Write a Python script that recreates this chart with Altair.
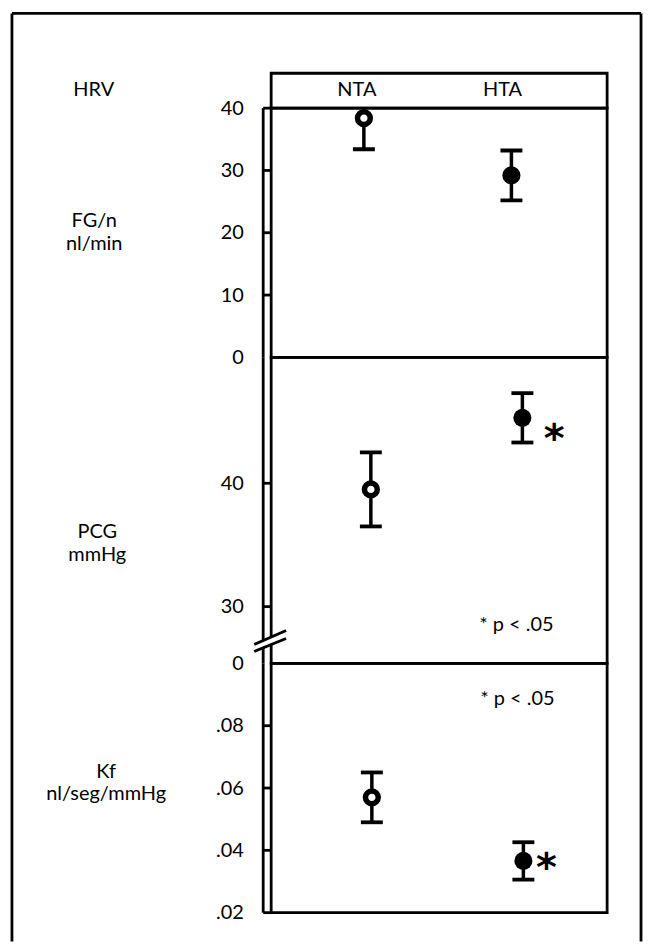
import altair as alt
import pandas as pd

# Groups (columns of the figure)
groups = ["NTA", "HTA"]
hollow = [True, False]          # NTA open circles, HTA filled circles
starred = [False, True]         # significant difference marker

# FG/n (nl/min): mean and error
fg_mean = [38.4, 29.2]
fg_err = [5.0, 4.0]
fg_domain = [0, 40]
fg_ticks = [10, 20, 30, 40]

# PCG (mmHg): mean and error
pcg_mean = [39.5, 45.3]
pcg_err = [3.0, 2.0]
pcg_domain = [25.4, 50.2]       # axis broken below 30, bottom labelled 0
pcg_ticks = [30, 40]
pcg_note_y = 28.55

# Kf (nl/seg/mmHg): mean and error
kf_mean = [0.057, 0.0366]
kf_err = [0.008, 0.006]
kf_domain = [0.02, 0.10]
kf_ticks = [0.02, 0.04, 0.06, 0.08]
kf_note_y = 0.0885

# axis-break slashes on the PCG scale (left end, right end)
break_left = [26.94, 26.37]
break_right = [28.07, 27.42]
break_gap_left = [26.65]
break_gap_right = [27.74]

FONT = "Lato"
FS = 20
W = 337
BLACK = "black"
LW = 2.8


def axis_def(values, expr, title, tx, ty):
    return alt.Axis(
        values=values, labelExpr=expr, ticks=False, domain=False, grid=False,
        labelPadding=28, labelFontSize=FS, labelFont=FONT, labelColor=BLACK,
        labelOverlap=False, labelBound=False,
        title=title, titleAngle=0, titleX=tx, titleY=ty, titleAlign="center",
        titleBaseline="middle", titleFont=FONT, titleFontSize=FS,
        titleFontWeight="normal", titleColor=BLACK, titleLineHeight=23,
    )


def panel(mean, err, domain, ticks, yaxis, height, xrange, clip=False,
          star_dx=0, star_dy=0, note_y=None, with_break=False):
    df = pd.DataFrame({
        "group": groups,
        "mean": mean,
        "lo": [m - e for m, e in zip(mean, err)],
        "hi": [m + e for m, e in zip(mean, err)],
        "hollow": hollow,
        "star": ["*" if s else "" for s in starred],
    })
    ys = alt.Scale(domain=domain, nice=False, zero=False)
    x = alt.X("group:N", sort=groups, axis=None,
              scale=alt.Scale(type="point", range=xrange, padding=0))
    base = alt.Chart(df)

    # outer rail of the double-line axis
    rail = alt.Chart(pd.DataFrame({"k": [0]})).mark_rule(
        color=BLACK, strokeWidth=LW
    ).encode(x=alt.value(-8), y=alt.value(0), y2=alt.value(height))

    # rungs joining the two rails at each tick
    rungs = alt.Chart(pd.DataFrame({"tick": ticks})).mark_rule(
        color=BLACK, strokeWidth=LW
    ).encode(x=alt.value(-8), x2=alt.value(0),
             y=alt.Y("tick:Q", scale=ys, axis=yaxis))

    whisk = base.mark_rule(color=BLACK, strokeWidth=3.5, clip=clip).encode(
        x=x, y=alt.Y("lo:Q", scale=ys, axis=yaxis), y2="hi:Q")
    caps = base.transform_fold(["lo", "hi"], as_=["end", "v"]).mark_tick(
        color=BLACK, thickness=3.8, size=22, clip=clip, opacity=1
    ).encode(x=x, y=alt.Y("v:Q", scale=ys, axis=yaxis))

    open_pts = base.transform_filter("datum.hollow").mark_point(
        shape="circle", filled=True, fill="white", stroke=BLACK,
        strokeWidth=5.5, size=165, opacity=1
    ).encode(x=x, y=alt.Y("mean:Q", scale=ys, axis=yaxis))
    full_pts = base.transform_filter("!datum.hollow").mark_point(
        shape="circle", filled=True, fill=BLACK, stroke=BLACK,
        strokeWidth=0, size=330, opacity=1
    ).encode(x=x, y=alt.Y("mean:Q", scale=ys, axis=yaxis))

    layers = [rail, rungs, whisk, caps, open_pts, full_pts]

    if star_dx:
        layers.append(
            base.transform_filter("datum.star != ''").mark_text(
                font="DejaVu Sans", fontWeight="bold", fontSize=40,
                color=BLACK, align="center", baseline="alphabetic",
                dx=star_dx, dy=star_dy
            ).encode(x=x, y=alt.Y("mean:Q", scale=ys, axis=yaxis),
                     text="star:N"))

    if note_y is not None:
        note = pd.DataFrame({"group": ["HTA"], "v": [note_y],
                             "txt": ["* p < .05"]})
        layers.append(
            alt.Chart(note).mark_text(
                font=FONT, fontSize=20, color=BLACK, align="center",
                baseline="middle", dx=-6
            ).encode(x=x, y=alt.Y("v:Q", scale=ys, axis=yaxis),
                     text="txt:N"))

    if with_break:
        gap = pd.DataFrame({"a": break_gap_left, "b": break_gap_right})
        slashes = pd.DataFrame({"a": break_left, "b": break_right})
        layers.append(
            alt.Chart(gap).mark_rule(color="white", strokeWidth=5).encode(
                x=alt.value(-17), x2=alt.value(15),
                y=alt.Y("a:Q", scale=ys, axis=yaxis), y2="b:Q"))
        layers.append(
            alt.Chart(slashes).mark_rule(color=BLACK, strokeWidth=LW).encode(
                x=alt.value(-17), x2=alt.value(15),
                y=alt.Y("a:Q", scale=ys, axis=yaxis), y2="b:Q"))

    return alt.layer(*layers).properties(width=W, height=height)


fg = panel(
    fg_mean, fg_err, fg_domain, fg_ticks,
    axis_def([0, 10, 20, 30, 40], "format(datum.value, 'd')",
             ["FG/n", "nl/min"], -178, 113),
    250, [93, 241], clip=True)

pcg = panel(
    pcg_mean, pcg_err, pcg_domain, pcg_ticks,
    axis_def([pcg_domain[0], 30, 40],
             "datum.value < 29 ? '0' : format(datum.value, 'd')",
             ["PCG", "mmHg"], -175, 175),
    307, [100, 252], star_dx=32, star_dy=34, note_y=pcg_note_y,
    with_break=True)

kf = panel(
    kf_mean, kf_err, kf_domain, kf_ticks,
    axis_def(kf_ticks, "substring(format(datum.value, '.2f'), 1)",
             ["Kf", "nl/seg/mmHg"], -166, 108),
    250, [101, 253], star_dx=23, star_dy=20, note_y=kf_note_y)

# header row with the group names, the row label and the outer frame
hdr_df = pd.DataFrame({"group": groups})
hx = alt.X("group:N", sort=groups, axis=None,
           scale=alt.Scale(type="point", range=[86, 232], padding=0))
one = pd.DataFrame({"k": [0]})
header = alt.layer(
    alt.Chart(hdr_df).mark_text(font=FONT, fontSize=FS, color=BLACK,
                                baseline="middle").encode(
        x=hx, y=alt.value(17), text="group:N"),
    alt.Chart(pd.DataFrame({"t": ["HRV"]})).mark_text(
        font=FONT, fontSize=FS, color=BLACK, baseline="middle").encode(
        x=alt.value(-178), y=alt.value(17), text="t:N"),
    alt.Chart(one).mark_rule(color=BLACK, strokeWidth=LW).encode(
        x=alt.value(-260), y=alt.value(-60), y2=alt.value(871)),
    alt.Chart(one).mark_rule(color=BLACK, strokeWidth=LW).encode(
        x=alt.value(-260), x2=alt.value(371), y=alt.value(-60)),
    alt.Chart(one).mark_rule(color=BLACK, strokeWidth=LW).encode(
        x=alt.value(371), y=alt.value(-60), y2=alt.value(871)),
).properties(width=W, height=35)

chart = alt.vconcat(
    header, fg, pcg, kf, spacing=0, bounds="flush"
).resolve_scale(
    x="independent", y="independent"
).properties(
    padding={"left": 9, "top": 9, "right": 4, "bottom": 0},
    background="white",
).configure_view(
    stroke=BLACK, strokeWidth=LW
)

chart.save("out.html", embed_options={"renderer": "svg", "actions": False})
